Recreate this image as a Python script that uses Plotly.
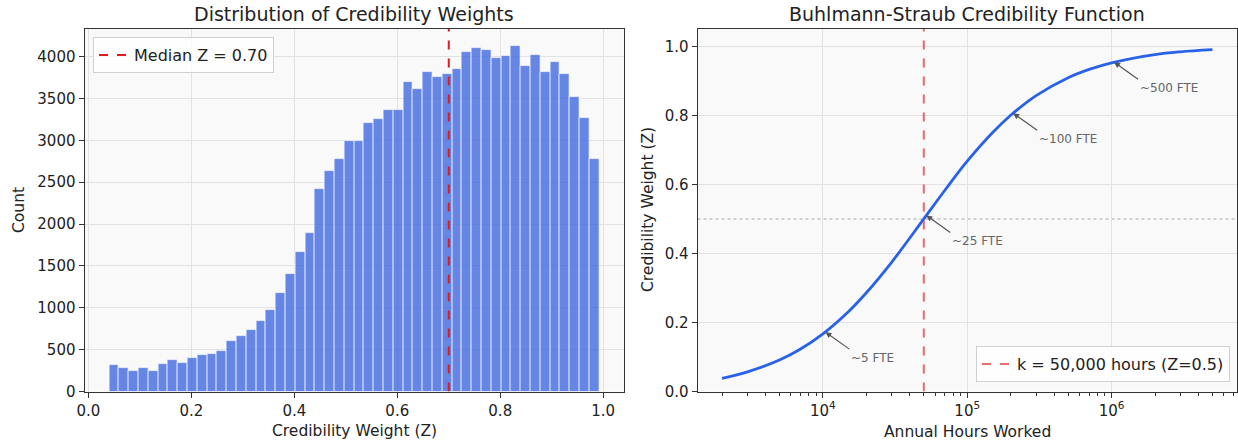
import numpy as np
import plotly.graph_objects as go

# ---------------- data ----------------
# Left: histogram of credibility weights (50 bins)
bin_start = 0.040
bin_end = 0.992
counts = [320, 285, 250, 280, 245, 330, 380, 335, 403, 435,
          447, 479, 599, 663, 739, 846, 968, 1177, 1401, 1668,
          1896, 2415, 2631, 2775, 2994, 2994, 3206, 3250, 3367, 3357,
          3697, 3613, 3820, 3752, 3788, 3852, 4056, 4104, 4075, 3986,
          4008, 4123, 3888, 4020, 3812, 3936, 3796, 3512, 3262, 2778]
median_z = 0.70

# Right: credibility curve
hours = [2000, 3000, 5000, 7000, 10000, 15000, 20000, 30000, 50000, 70000,
         100000, 150000, 200000, 300000, 500000, 700000, 1000000, 2000000, 3000000, 5000000]
z_vals = [0.038, 0.057, 0.091, 0.123, 0.167, 0.231, 0.286, 0.375, 0.500, 0.583,
          0.667, 0.750, 0.800, 0.857, 0.909, 0.933, 0.952, 0.976, 0.984, 0.990]
k_hours = 50000
fte_labels = ["~5 FTE", "~25 FTE", "~100 FTE", "~500 FTE"]
fte_hours = [10400, 52000, 208000, 1040000]
fte_z = [0.172, 0.510, 0.806, 0.954]

left_xticks = [0.0, 0.2, 0.4, 0.6, 0.8, 1.0]
left_yticks = [0, 500, 1000, 1500, 2000, 2500, 3000, 3500, 4000]
right_xticks = [1e4, 1e5, 1e6]
right_xticktext = ["10<sup>4</sup>", "10<sup>5</sup>", "10<sup>6</sup>"]
right_yticks = [0.0, 0.2, 0.4, 0.6, 0.8, 1.0]

# ---------------- figure ----------------
W, H = 1238, 444
def px(x):
    return x / W
def py(y):
    return (H - y) / H

nb = len(counts)
edges = np.linspace(bin_start, bin_end, nb + 1)
centers = (edges[:-1] + edges[1:]) / 2
bw = edges[1] - edges[0]

FONT = "DejaVu Sans"
TXT = "#222222"
AX = "#333333"
GRID = "#e2e2e2"
BG = "#f9f9f9"

fig = go.Figure()

fig.add_trace(go.Bar(
    x=centers, y=counts, width=bw,
    marker=dict(color="rgba(65,105,225,0.8)", line=dict(color="rgba(255,255,255,0.85)", width=0.8)),
    showlegend=False, xaxis="x", yaxis="y", hoverinfo="x+y"))

ymax_left = 4330
fig.add_trace(go.Scatter(
    x=[median_z, median_z], y=[0, ymax_left], mode="lines",
    line=dict(color="#e31a1c", width=2, dash="dash"),
    name=f"Median Z = {median_z:.2f}", xaxis="x", yaxis="y", legend="legend"))

fig.add_trace(go.Scatter(
    x=hours, y=z_vals, mode="lines", line=dict(color="#2962e8", width=2.8, shape="spline"),
    showlegend=False, xaxis="x2", yaxis="y2"))

fig.add_trace(go.Scatter(
    x=[k_hours, k_hours], y=[0, 1.05], mode="lines",
    line=dict(color="rgba(225,45,45,0.7)", width=2, dash="dash"),
    name="k = 50,000 hours (Z=0.5)", xaxis="x2", yaxis="y2", legend="legend2"))

# horizontal dotted line at Z = 0.5
fig.add_shape(type="line", xref="x2 domain", yref="y2", x0=0, x1=1, y0=0.5, y1=0.5,
              line=dict(color="rgba(128,128,128,0.45)", width=1.5, dash="dot"), layer="below")

axis_common = dict(showline=True, linecolor=AX, linewidth=1, mirror=True,
                   ticks="outside", ticklen=5, tickcolor=AX, tickwidth=1,
                   showgrid=True, gridcolor=GRID, gridwidth=1, zeroline=False,
                   automargin=False,
                   tickfont=dict(family=FONT, size=15, color=TXT))

annotations = []
# titles
annotations.append(dict(text="Distribution of Credibility Weights", x=px(354), y=py(14),
                        xref="paper", yref="paper", showarrow=False,
                        font=dict(family=FONT, size=19, color=TXT), xanchor="center", yanchor="middle"))
annotations.append(dict(text="Buhlmann-Straub Credibility Function", x=px(967), y=py(14),
                        xref="paper", yref="paper", showarrow=False,
                        font=dict(family=FONT, size=19, color=TXT), xanchor="center", yanchor="middle"))
# axis labels
lab_font = dict(family=FONT, size=15.5, color=TXT)
annotations.append(dict(text="Credibility Weight (Z)", x=px(354), y=py(431), xref="paper", yref="paper",
                        showarrow=False, font=lab_font, xanchor="center", yanchor="middle"))
annotations.append(dict(text="Annual Hours Worked", x=px(967), y=py(432), xref="paper", yref="paper",
                        showarrow=False, font=lab_font, xanchor="center", yanchor="middle"))
annotations.append(dict(text="Count", x=px(19), y=py(210), xref="paper", yref="paper", textangle=-90,
                        showarrow=False, font=lab_font, xanchor="center", yanchor="middle"))
annotations.append(dict(text="Credibility Weight (Z)", x=px(648), y=py(210), xref="paper", yref="paper",
                        textangle=-90, showarrow=False, font=lab_font, xanchor="center", yanchor="middle"))
# FTE annotations
for lab, h, z in zip(fte_labels, fte_hours, fte_z):
    annotations.append(dict(text=lab, x=np.log10(h), y=z, xref="x2", yref="y2",
                            showarrow=True, arrowhead=2, arrowsize=1, arrowwidth=1.2,
                            arrowcolor="#555555", ax=24, ay=17, xanchor="left", yanchor="top",
                            font=dict(family=FONT, size=12, color="#666666")))

minor_vals = []
for dec in [1e3, 1e4, 1e5, 1e6]:
    for m in range(2, 10):
        minor_vals.append(m * dec)

fig.update_layout(
    width=W, height=H,
    margin=dict(l=0, r=0, t=0, b=0, autoexpand=False),
    paper_bgcolor="white", plot_bgcolor=BG,
    bargap=0,
    xaxis=dict(domain=[px(84.5), px(623.7)], range=[-0.0076, 1.0398],
               tickvals=left_xticks, tickformat=".1f", anchor="y", **axis_common),
    yaxis=dict(domain=[py(391.5), py(29)], range=[0, ymax_left], tickvals=left_yticks,
               anchor="x", **axis_common),
    xaxis2=dict(domain=[px(697.5), px(1237)], type="log", range=[3.131, 6.869],
                tickvals=right_xticks, ticktext=right_xticktext, anchor="y2",
                minor=dict(tickvals=minor_vals, ticks="outside", ticklen=3, tickcolor=AX, showgrid=False),
                **axis_common),
    yaxis2=dict(domain=[py(391.5), py(29)], range=[0, 1.05], tickvals=right_yticks, tickformat=".1f",
                anchor="x2", **axis_common),
    legend=dict(x=px(93), y=py(37), xanchor="left", yanchor="top",
                bgcolor="rgba(255,255,255,0.8)", bordercolor="#d0d0d0", borderwidth=1,
                font=dict(family=FONT, size=16, color=TXT)),
    legend2=dict(x=px(1230), y=py(382), xanchor="right", yanchor="bottom",
                 bgcolor="rgba(255,255,255,0.8)", bordercolor="#d0d0d0", borderwidth=1,
                 font=dict(family=FONT, size=16, color=TXT)),
    annotations=annotations,
    font=dict(family=FONT, color=TXT),
)

fig.write_html("out.html", config={"displayModeBar": False},
               post_script="document.body.style.margin='0px';document.body.style.overflow='hidden';")
